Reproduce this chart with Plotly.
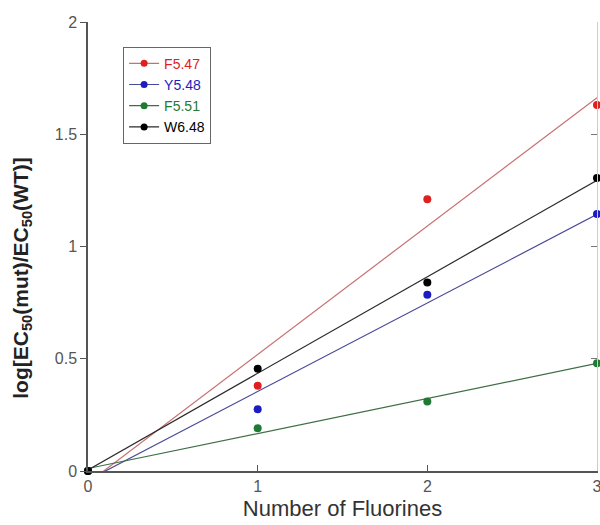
import numpy as np
import plotly.graph_objects as go

# Data
fluorines = [0, 1, 2, 3]
series_names = ["F5.47", "Y5.48", "F5.51", "W6.48"]
f547 = [0, 0.38, 1.21, 1.63]
y548 = [0, 0.275, 0.785, 1.145]
f551 = [0, 0.19, 0.31, 0.48]
w648 = [0, 0.455, 0.84, 1.305]
x_ticks = [0, 1, 2, 3]
y_ticks = [0, 0.5, 1, 1.5, 2]

series_values = [f547, y548, f551, w648]
marker_colors = ["#e0201f", "#1c1cc0", "#1f7a34", "#000000"]
line_colors = ["#c87070", "#4a4a9a", "#3f6e45", "#2a2a2a"]

fig = go.Figure()
fit_x = np.array([0.0, 3.0])

for name, vals, lc in zip(series_names, series_values, line_colors):
    slope, icpt = np.polyfit(fluorines, vals, 1)
    fig.add_trace(go.Scatter(x=fit_x, y=slope * fit_x + icpt, mode="lines",
                             line=dict(color=lc, width=1.2), showlegend=False,
                             hoverinfo="skip"))

for name, vals, mc in zip(series_names, series_values, marker_colors):
    fig.add_trace(go.Scatter(x=fluorines, y=vals, mode="markers",
                             marker=dict(color=mc, size=8), showlegend=False,
                             cliponaxis=False))

# Legend entries (attached to the right-hand mirror axis so it is drawn)
for name, mc, lc in zip(series_names, marker_colors, line_colors):
    fig.add_trace(go.Scatter(x=[None], y=[None], mode="lines+markers", yaxis="y2",
                             marker=dict(color=mc, size=7),
                             line=dict(color=lc, width=1.2),
                             name=f"<span style='color:{mc}'>{name}</span>"))

fig.add_annotation(
    text="<b>log[EC<sub>50</sub>(mut)/EC<sub>50</sub>(WT)]</b>",
    xref="paper", yref="paper", x=-0.13, y=0.43, textangle=-90,
    showarrow=False, font=dict(size=21, color="#222"),
    xanchor="center", yanchor="middle",
)

fig.update_layout(
    width=600, height=525,
    margin=dict(l=88, r=3, t=22, b=54),
    paper_bgcolor="white", plot_bgcolor="white",
    font=dict(family="Liberation Sans, Arial, sans-serif", color="#444"),
    legend=dict(x=0.069, y=0.945, xanchor="left", yanchor="top",
                bordercolor="#666", borderwidth=1, bgcolor="white",
                font=dict(size=14), tracegroupgap=0, itemwidth=30),
    xaxis=dict(range=[0, 3], tickvals=x_ticks, ticks="inside", ticklen=6,
               tickcolor="#555", showline=True, linecolor="#555", linewidth=1.5,
               showgrid=False, zeroline=False, tickfont=dict(size=16, color="#555"),
               automargin=False, ticklabeloverflow="allow",
               title=dict(text="Number of Fluorines", font=dict(size=22, color="#333"),
                          standoff=7)),
    yaxis=dict(range=[0, 2], tickvals=y_ticks, ticktext=["0", "0.5", "1", "1.5", "2"],
               ticks="outside", ticklen=6, automargin=False,
               tickcolor="#555", showline=True, linecolor="#555", linewidth=1.5,
               showgrid=False, zeroline=False, tickfont=dict(size=16, color="#555")),
    yaxis2=dict(range=[0, 2], overlaying="y", side="right", anchor="x",
                tickvals=y_ticks, ticks="inside", ticklen=6, showticklabels=False,
                tickcolor="#777", showline=True, linecolor="#ccc", linewidth=1,
                showgrid=False, zeroline=False, automargin=False),
)

fig.write_html(
    "out.html",
    config={"displayModeBar": False},
    post_script="document.body.style.margin='0';document.body.style.overflow='hidden';",
)
